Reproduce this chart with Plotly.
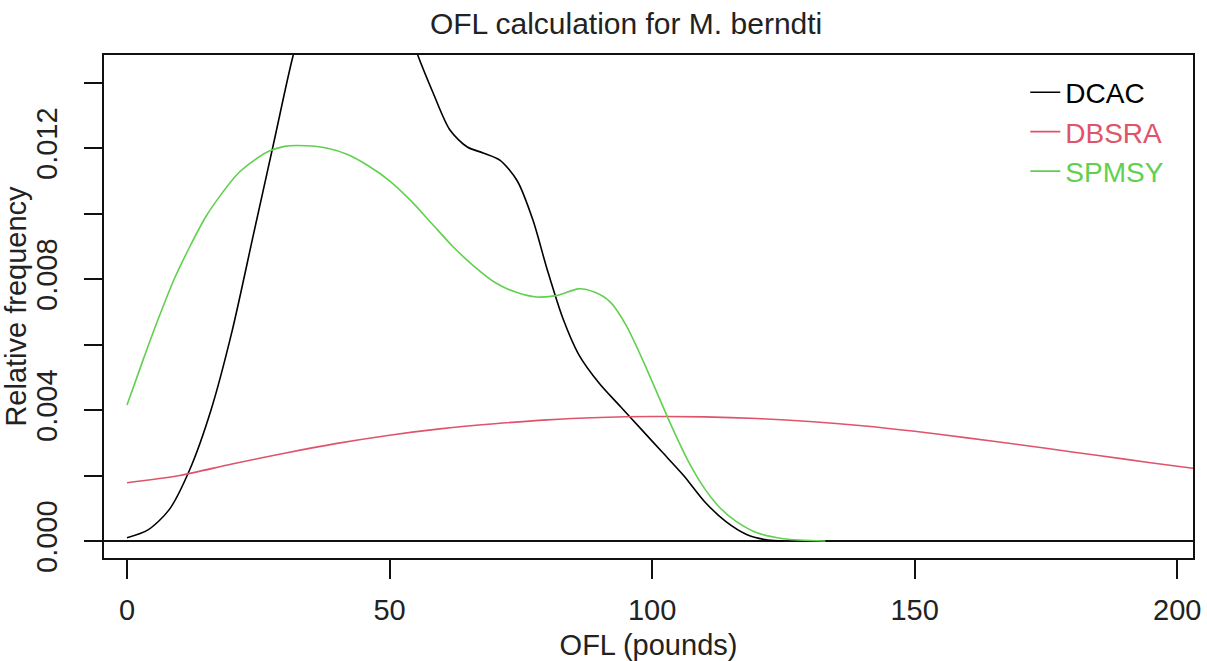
import plotly.graph_objects as go

# ---- data ----
dcac_x = [0, 4, 8, 12, 16, 20, 24, 28, 31.6, 35, 40, 45, 50, 55, 58.3, 61.5, 64.8, 67.8, 71, 74.3,
          77.3, 80, 83, 86, 90, 94, 98, 102, 106, 110, 114, 118, 122, 125]
dcac_y = [0.0001, 0.00034, 0.00095, 0.0022, 0.0040, 0.0064, 0.0093, 0.0122, 0.0148, 0.0167, 0.0183,
          0.0187, 0.0176, 0.0150, 0.01368, 0.01255, 0.01203, 0.01185, 0.01163, 0.0110,
          0.0098, 0.0083, 0.0068, 0.0057, 0.0048, 0.0041, 0.0034, 0.0027, 0.0020, 0.0012,
          0.0006, 0.0002, 0.00003, 0.0]

dbsra_x = [0, 10, 20, 30, 40, 50, 60, 70, 80, 90, 100, 110, 120, 130, 140, 150, 160, 170, 180, 190,
           200, 203]
dbsra_y = [0.00178, 0.0020, 0.00235, 0.00268, 0.00298, 0.00323, 0.00343, 0.00358, 0.00370, 0.00377,
           0.00380, 0.00379, 0.00374, 0.00365, 0.00352, 0.00335, 0.00315, 0.00294, 0.00272, 0.00250,
           0.00228, 0.00222]

spmsy_x = [0, 3, 6, 9, 12, 15, 18, 21, 24, 27, 30, 34, 38, 42, 46, 50, 54, 58, 62, 66, 70, 74, 78,
           82, 86, 89, 92, 95, 98, 101, 104, 107, 110, 113, 116, 120, 125, 133]
spmsy_y = [0.00415, 0.0055, 0.0068, 0.0080, 0.0090, 0.0099, 0.0106, 0.0112, 0.0116, 0.0119, 0.01205,
           0.01207, 0.01200, 0.01180, 0.01145, 0.0110, 0.0104, 0.0097, 0.0090, 0.0084, 0.0079, 0.0076,
           0.00745, 0.0075, 0.0077, 0.0076, 0.0073, 0.0066, 0.0056, 0.0045, 0.0034, 0.0024, 0.0016,
           0.0010, 0.0006, 0.00025, 0.00007, 0.0]

series_names = ["DCAC", "DBSRA", "SPMSY"]
series_colors = ["#000000", "#DF536B", "#61D04F"]

x_ticks = [0, 50, 100, 150, 200]
y_ticks = [0.000, 0.002, 0.004, 0.006, 0.008, 0.010, 0.012, 0.014]
y_ticklabels = ["0.000", "", "0.004", "", "0.008", "", "0.012", ""]

title_text = "OFL calculation for M. berndti"
x_title = "OFL (pounds)"
y_title = "Relative frequency"

# ---- figure ----
FONT = "Liberation Sans, Arial, sans-serif"
fig = go.Figure()
for xs, ys, name, col in zip([dcac_x, dbsra_x, spmsy_x], [dcac_y, dbsra_y, spmsy_y],
                             series_names, series_colors):
    fig.add_trace(go.Scatter(
        x=xs, y=ys, mode="lines",
        name=f"<span style='color:{col}'>{name}</span>",
        line=dict(color=col, width=1.6, shape="spline", smoothing=0.8),
        hoverinfo="skip",
    ))

fig.update_layout(
    width=1207, height=661,
    margin=dict(l=104, r=14, t=55, b=103),
    paper_bgcolor="white", plot_bgcolor="white",
    font=dict(family=FONT, size=29, color="#222"),
    title=dict(text=title_text, x=0.5187, xanchor="center", y=0.965, yanchor="middle",
               font=dict(size=30, color="#222")),
    showlegend=True,
    legend=dict(x=0.846, y=0.975, xanchor="left", yanchor="top", bgcolor="rgba(0,0,0,0)",
                borderwidth=0, font=dict(size=28), tracegroupgap=0),
)
fig.update_xaxes(
    range=[-4.38, 203], tickvals=x_ticks, ticktext=[str(v) for v in x_ticks],
    ticks="outside", ticklen=19, tickwidth=1.5, tickcolor="#111",
    showline=True, linecolor="#111", linewidth=1.5, mirror=True,
    showgrid=False, zeroline=False, ticklabelstandoff=6, automargin=False,
    title=dict(text=x_title, standoff=17, font=dict(size=29)),
)
fig.update_yaxes(
    range=[-0.000519, 0.01484], tickvals=y_ticks, ticktext=y_ticklabels, tickangle=-90,
    ticks="outside", ticklen=18, tickwidth=1.5, tickcolor="#111",
    showline=True, linecolor="#111", linewidth=1.5, mirror=True,
    showgrid=False, zeroline=True, zerolinecolor="#111", zerolinewidth=1.6,
    ticklabelstandoff=16, automargin=False,
    title=dict(text=y_title, standoff=0, font=dict(size=29)),
)

fig.write_html("out.html")
